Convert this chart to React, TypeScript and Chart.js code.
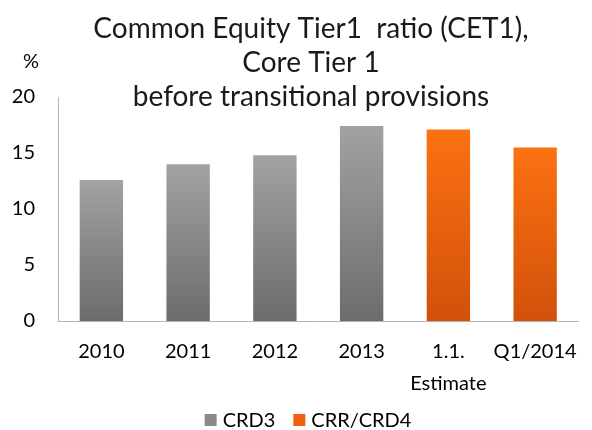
import React, { useEffect, useRef } from "react";
import { Chart, registerables } from "chart.js";

Chart.register(...registerables);

const categories: (string | string[])[] = ["2010", "2011", "2012", "2013", ["1.1.", "Estimate"], "Q1/2014"];
const crd3Values: (number | null)[] = [12.6, 14.0, 14.8, 17.4, null, null];
const crrCrd4Values: (number | null)[] = [null, null, null, null, 17.1, 15.5];
const yTicks = [0, 5, 10, 15, 20];
const titleLines = ["Common Equity Tier1  ratio (CET1),", "Core Tier 1", "before transitional provisions"];
const unitLabel = "%";

const FONT = "Lato, 'Open Sans', sans-serif";

const grayTop = "#a2a2a2";
const grayBottom = "#6c6c6c";
const orangeTop = "#fb7212";
const orangeBottom = "#d2500a";

function barGradient(top: string, bottom: string) {
  return (ctx: any) => {
    const chart = ctx.chart;
    const area = chart.chartArea;
    if (!area) return top;
    const v = ctx.raw;
    const yScale = chart.scales.y;
    const yTop = v != null && yScale ? yScale.getPixelForValue(v) : area.top;
    const g = chart.ctx.createLinearGradient(0, yTop, 0, area.bottom);
    g.addColorStop(0, top);
    g.addColorStop(1, bottom);
    return g;
  };
}

const overlayPlugin = {
  id: "overlayText",
  afterDraw(chart: any) {
    const ctx = chart.ctx;
    ctx.save();
    ctx.fillStyle = "#1a1a1a";
    ctx.textAlign = "center";
    ctx.textBaseline = "alphabetic";
    ctx.font = `28px ${FONT}`;
    const baselines = [38, 72, 106];
    titleLines.forEach((t, i) => ctx.fillText(t, 311, baselines[i]));
    ctx.font = `20px ${FONT}`;
    ctx.fillStyle = "#000";
    ctx.fillText(unitLabel, 31, 68);

    // legend
    const items = chart.data.datasets.map((d: any, i: number) => ({
      text: d.label,
      color: i === 0 ? "#8a8a8a" : "#f06010",
    }));
    ctx.font = `20px ${FONT}`;
    ctx.textAlign = "left";
    ctx.textBaseline = "middle";
    const box = 12;
    const gapBoxText = 6;
    const gapItems = 18;
    const widths = items.map((it: any) => box + gapBoxText + ctx.measureText(it.text).width);
    const total = widths.reduce((a: number, b: number) => a + b, 0) + gapItems * (items.length - 1);
    let x = 308 - total / 2;
    const cy = 420;
    items.forEach((it: any, i: number) => {
      ctx.fillStyle = it.color;
      ctx.fillRect(x, cy - box / 2, box, box);
      ctx.fillStyle = "#000";
      ctx.fillText(it.text, x + box + gapBoxText, cy + 1);
      x += widths[i] + gapItems;
    });
    ctx.restore();
  },
};

export default function App() {
  const ref = useRef<HTMLCanvasElement | null>(null);
  useEffect(() => {
    if (!ref.current) return;
    const chart = new Chart(ref.current, {
      type: "bar",
      data: {
        labels: categories,
        datasets: [
          {
            label: "CRD3",
            data: crd3Values,
            backgroundColor: barGradient(grayTop, grayBottom),
          },
          {
            label: "CRR/CRD4",
            data: crrCrd4Values,
            backgroundColor: barGradient(orangeTop, orangeBottom),
          },
        ],
      },
      options: {
        responsive: false,
        animation: false,
        grouped: false,
        skipNull: true,
        categoryPercentage: 1,
        barPercentage: 0.5,
        layout: { padding: { top: 97, right: 4, left: 0, bottom: 0 } },
        plugins: {
          legend: { display: false },
          title: { display: false },
          tooltip: { enabled: false },
        },
        scales: {
          x: {
            grid: { display: false, drawTicks: false },
            border: { display: true, color: "#b4b4b4", width: 1 },
            ticks: {
              color: "#000",
              font: { family: FONT, size: 20, lineHeight: 1.6 },
              padding: 15,
              maxRotation: 0,
              autoSkip: false,
            },
            afterFit: (s: any) => {
              s.height = 109;
            },
          },
          y: {
            min: 0,
            max: 20,
            afterBuildTicks: (s: any) => {
              s.ticks = yTicks.map((v) => ({ value: v }));
            },
            grid: { display: false, drawTicks: false },
            border: { display: true, color: "#b4b4b4", width: 1 },
            ticks: {
              color: "#000",
              font: { family: FONT, size: 20 },
              padding: 23,
            },
            afterFit: (s: any) => {
              s.width = 58;
            },
          },
        },
      } as any,
      plugins: [overlayPlugin],
    });
    return () => chart.destroy();
  }, []);
  return (
    <div style={{ position: "absolute", left: 0, top: 0, width: 592, height: 430, background: "#fff" }}>
      <canvas ref={ref} width={592} height={430} style={{ display: "block" }} />
    </div>
  );
}
